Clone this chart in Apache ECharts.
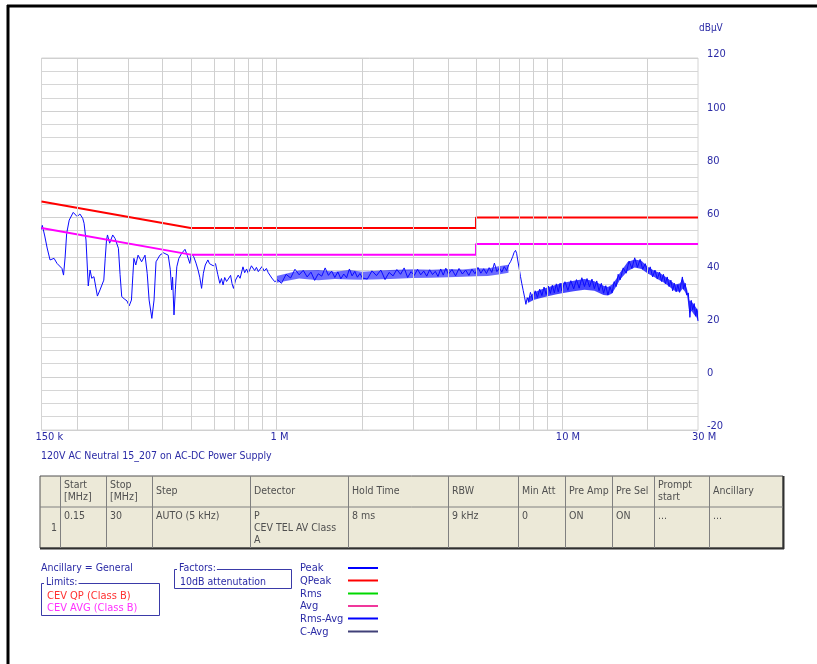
<!DOCTYPE html>
<html>
<head>
<meta charset="utf-8">
<script src="https://cdn.jsdelivr.net/npm/echarts@6/dist/echarts.min.js"></script>
<style>
  html, body { margin: 0; padding: 0; background: #fff; }
  #chart { width: 817px; height: 664px; }
</style>
</head>
<body>
<div id="chart"></div>
<script>
// axis ticks and grid positions (frequency in MHz)
const xTickFreqs = [0.15, 1, 10, 30];
const xTickLabels = ['150 k', '1 M', '10 M', '30 M'];
const xGridFreqs = [0.2, 0.3, 0.4, 0.5, 0.6, 0.7, 0.8, 0.9, 1, 2, 3, 4, 5, 6, 7, 8, 9, 10, 20];

// limit lines
const limitFreq = [0.15, 0.5, 5, 5, 30];
const qpLevel = [66, 56, 56, 60, 60];
const avgLevel = [56, 46, 46, 50, 50];

// measured peak trace, [MHz, dBuV]
const peakTrace = [
  [0.150,55.5],[0.151,57.0],[0.154,53.0],[0.157,48.5],[0.1607,44.0],[0.166,44.6],[0.170,42.7],[0.1769,40.8],
  [0.1792,38.3],[0.1815,45.0],[0.1838,54.0],[0.1876,59.0],[0.1938,61.9],[0.2001,60.3],[0.2045,61.3],[0.2091,59.7],
  [0.2115,57.8],[0.2148,51.5],[0.2188,34.2],[0.222,40.2],[0.225,37.1],[0.229,37.7],[0.2355,30.4],[0.2405,32.7],
  [0.248,36.4],[0.2508,44.5],[0.2535,51.5],[0.2555,53.4],[0.260,50.3],[0.2665,53.4],[0.2715,52.1],[0.279,48.4],
  [0.2828,38.5],[0.2866,30.2],[0.2937,29.2],[0.2990,28.6],[0.3043,26.7],[0.310,28.9],[0.3135,38.0],[0.3162,44.6],
  [0.321,42.1],[0.327,45.8],[0.3365,43.3],[0.3459,45.8],[0.352,39.0],[0.3575,28.9],[0.3655,22.0],[0.372,28.9],
  [0.378,43.3],[0.390,45.8],[0.401,46.7],[0.417,45.8],[0.424,40.5],[0.429,32.7],[0.432,37.5],[0.437,23.3],
  [0.442,33.0],[0.447,41.4],[0.4545,44.6],[0.465,46.5],[0.4775,48.0],[0.486,45.8],[0.4965,42.7],[0.503,46.5],
  [0.5125,45.2],[0.522,42.8],[0.5307,40.2],[0.538,37.5],[0.546,33.3],[0.554,39.0],[0.5625,42.1],[0.5745,44.0],
  [0.582,42.6],[0.5908,43.3],[0.600,41.8],[0.611,42.6],[0.622,38.6],[0.6325,35.2],[0.641,37.0],[0.6495,34.6],
  [0.658,37.4],[0.668,35.9],[0.677,36.8],[0.690,38.2],[0.698,35.1],[0.7065,33.3],[0.718,36.4],[0.7335,38.3],
  [0.745,37.1],[0.7625,41.4],[0.773,39.2],[0.785,40.6],[0.7955,39.0],[0.8075,39.6],[0.8165,41.8],[0.8265,42.1],
  [0.838,40.0],[0.850,41.2],[0.863,39.6],[0.876,40.2],[0.889,41.5],[0.905,39.8],[0.9215,40.8],[0.935,39.2],
  [0.9485,39.6],[0.962,37.2],[0.9855,35.8],[1.01,36.5],[1.04,35.2],[1.08,38.6],[1.12,37.2],[1.16,40.5],
  [1.20,38.4],[1.24,40.1],[1.28,37.6],[1.32,39.4],[1.36,36.3],[1.40,38.8],[1.44,37.9],[1.48,41.0],
  [1.52,38.2],[1.56,39.8],[1.60,37.4],[1.64,39.5],[1.68,36.9],[1.72,38.7],[1.76,37.3],[1.80,40.6],
  [1.84,38.0],[1.88,39.7],[1.92,37.5],[1.96,38.9],[2.00,37.2],[2.08,36.8],[2.16,39.9],[2.24,38.1],
  [2.32,40.2],[2.40,36.6],[2.48,39.3],[2.56,38.0],[2.64,40.4],[2.72,38.6],[2.80,41.0],[2.88,37.4],
  [2.96,39.6],[3.04,38.2],[3.12,40.5],[3.20,38.4],[3.28,39.8],[3.36,37.9],[3.44,40.3],[3.52,38.5],
  [3.60,39.7],[3.68,37.8],[3.76,40.6],[3.84,38.3],[3.92,40.9],[4.00,38.6],[4.12,40.4],[4.24,38.0],
  [4.36,40.8],[4.48,38.7],[4.60,40.2],[4.72,38.2],[4.84,40.5],[4.96,38.8],[5.08,41.2],[5.20,39.0],
  [5.32,40.7],[5.44,38.9],[5.56,41.1],[5.68,39.3],[5.80,42.8],[5.92,39.6],[6.04,41.0],[6.16,39.4],
  [6.28,41.5],[6.40,40.0],[6.52,42.3],[6.62,43.5],[6.72,45.2],[6.80,46.8],[6.88,47.6],[6.94,46.5],
  [7.00,44.0],[7.08,41.0],[7.16,37.8],[7.24,35.0],[7.32,32.5],[7.40,30.0],[7.48,27.3],[7.56,29.8],
  [7.64,28.4],[7.76,31.8],[7.91,29.0],[8.06,32.4],[8.21,29.9],[8.36,33.0],[8.51,30.6],[8.66,33.8],
  [8.81,31.0],[8.96,34.2],[9.11,31.4],[9.26,34.5],[9.41,31.6],[9.56,35.0],[9.71,32.0],[9.86,35.2],
  [10.0,32.3],[10.25,35.8],[10.5,32.6],[10.75,36.2],[11.0,33.1],[11.25,36.6],[11.5,33.4],[11.75,37.3],
  [12.0,34.0],[12.25,37.0],[12.5,33.8],[12.75,36.8],[13.0,33.2],[13.25,36.1],[13.5,32.4],[13.75,35.2],
  [14.0,31.5],[14.25,34.3],[14.5,30.8],[14.75,33.8],[15.0,31.6],[15.25,35.8],[15.5,34.0],[15.75,38.6],
  [16.0,36.5],[16.4,41.0],[16.8,39.0],[17.2,43.6],[17.6,40.8],[18.0,44.8],[18.4,41.2],[18.8,44.2],
  [19.2,40.5],[19.6,42.6],[20.0,38.8],[20.4,41.4],[20.8,37.6],[21.2,40.2],[21.6,36.8],[22.0,39.4],
  [22.35,35.9],[22.7,38.6],[23.05,35.0],[23.4,37.6],[23.75,34.0],[24.1,36.4],[24.45,32.4],[24.8,35.2],
  [25.15,32.0],[25.5,34.6],[25.85,31.8],[26.2,35.4],[26.45,37.6],[26.7,33.0],[27.05,35.2],[27.4,30.8],
  [27.75,31.6],[28.1,22.4],[28.4,28.8],[28.75,25.2],[29.1,27.6],[29.4,22.8],[29.7,25.6],[30.0,21.0]
];

// noise band envelopes of the peak trace (dense sweep)
const bandFreqA = [1.0, 1.2, 1.4, 1.6, 1.8, 2.0, 2.5, 3.0, 3.5, 4.0, 4.5, 5.0, 5.5, 6.0, 6.5];
const bandLowA  = [35.4, 37.0, 36.4, 36.8, 36.6, 36.5, 36.8, 37.2, 37.3, 37.5, 37.7, 37.9, 38.0, 38.5, 39.2];
const bandHighA = [38.0, 40.0, 40.2, 39.6, 40.2, 39.6, 40.2, 40.5, 40.3, 40.6, 40.4, 40.9, 40.8, 41.6, 42.2];
const bandFreqB = [7.6, 8, 8.5, 9, 9.5, 10, 11, 12, 13, 14, 14.5, 15, 15.5, 16, 17, 18, 19, 20, 21, 22, 23, 24, 25, 26, 26.5, 27, 27.5, 28, 28.5, 29, 29.5, 30];
const bandLowB  = [27.8, 29.0, 29.8, 30.4, 31.0, 31.5, 32.2, 32.8, 32.4, 30.8, 30.6, 31.4, 34.0, 36.6, 39.8, 41.2, 40.6, 38.9, 37.7, 36.4, 35.2, 33.6, 32.2, 32.0, 33.2, 32.0, 30.2, 24.0, 24.8, 23.6, 22.8, 21.2];
const bandHighB = [29.6, 31.8, 33.0, 33.8, 34.6, 35.3, 36.2, 36.8, 36.0, 34.3, 33.8, 34.8, 36.8, 39.3, 43.2, 44.2, 43.7, 41.4, 40.0, 39.2, 37.8, 36.3, 34.8, 35.2, 37.2, 35.0, 32.8, 28.6, 28.4, 27.2, 26.2, 24.8];

// settings table
const tableCols = [40, 60, 106, 152, 250, 348, 448, 518, 565, 612, 654, 709, 783];
const tableHead = ['', 'Start\n[MHz]', 'Stop\n[MHz]', 'Step', 'Detector', 'Hold Time', 'RBW', 'Min Att', 'Pre Amp', 'Pre Sel', 'Prompt\nstart', 'Ancillary'];
const tableRow = ['1', '0.15', '30', 'AUTO (5 kHz)', 'P\nCEV TEL AV Class\nA', '8 ms', '9 kHz', '0', 'ON', 'ON', '...', '...'];

// legend
const traceNames = ['Peak', 'QPeak', 'Rms', 'Avg', 'Rms-Avg', 'C-Avg'];
const traceColors = ['#0000ff', '#ff0000', '#00d800', '#f0389c', '#0000ff', '#404078'];

const FONT = '"DejaVu Sans Condensed", "Liberation Sans", sans-serif';
const BLUE_TEXT = '#2b2ba6';
const TRACE_BLUE = '#0a0aff';
const lg = Math.log10;

const chart = echarts.init(document.getElementById('chart'), null, { renderer: 'canvas' });

function txt(text, x, y, size, color, extra) {
  return {
    type: 'text', silent: true,
    style: Object.assign({ text: text, x: x, y: y, fill: color, font: size + 'px ' + FONT, verticalAlign: 'middle' }, extra || {})
  };
}

// custom series: filled polygon between low and high envelope
function bandSeries(freqs, low, high, opacity) {
  return {
    type: 'custom', z: 2, silent: true,
    data: freqs.map((f, i) => [lg(f), low[i], high[i]]),
    encode: { x: 0, y: [1, 2] },
    renderItem: function (params, api) {
      if (params.dataIndex !== 0) return null;
      const pts = [];
      for (let i = 0; i < freqs.length; i++) pts.push(api.coord([lg(freqs[i]), high[i]]));
      for (let i = freqs.length - 1; i >= 0; i--) pts.push(api.coord([lg(freqs[i]), low[i]]));
      return { type: 'polygon', shape: { points: pts }, style: { fill: TRACE_BLUE, opacity: opacity } };
    }
  };
}

const graphics = [];
// outer frame
graphics.push({ type: 'line', shape: { x1: 7, y1: 6, x2: 817, y2: 6 }, style: { stroke: '#000', lineWidth: 3 } });
graphics.push({ type: 'line', shape: { x1: 8, y1: 5, x2: 8, y2: 664 }, style: { stroke: '#000', lineWidth: 3 } });
graphics.push(txt('dBµV', 699, 28, 10, BLUE_TEXT));
graphics.push(txt('120V AC Neutral 15_207 on AC-DC Power Supply', 41, 456, 10.5, BLUE_TEXT));

// table
const tTop = 476, tMid = 507, tBot = 548;
const tLeft = tableCols[0], tRight = tableCols[tableCols.length - 1];
graphics.push({ type: 'rect', shape: { x: tLeft, y: tTop, width: tRight - tLeft, height: tBot - tTop }, style: { fill: '#ece9d8', stroke: '#505050', lineWidth: 1 } });
graphics.push({ type: 'line', shape: { x1: tLeft, y1: tBot + 0.5, x2: tRight + 1, y2: tBot + 0.5 }, style: { stroke: '#303030', lineWidth: 2 } });
graphics.push({ type: 'line', shape: { x1: tRight + 0.5, y1: tTop, x2: tRight + 0.5, y2: tBot + 1 }, style: { stroke: '#303030', lineWidth: 2 } });
graphics.push({ type: 'line', shape: { x1: tLeft, y1: tMid, x2: tRight, y2: tMid }, style: { stroke: '#808080', lineWidth: 1 } });
for (let i = 1; i < tableCols.length - 1; i++) {
  graphics.push({ type: 'line', shape: { x1: tableCols[i] + 0.5, y1: tTop, x2: tableCols[i] + 0.5, y2: tBot }, style: { stroke: '#808080', lineWidth: 1 } });
}
for (let i = 1; i < tableHead.length; i++) {
  graphics.push(txt(tableHead[i], tableCols[i] + 4, 491.5, 10.5, '#505050', { lineHeight: 12.5 }));
  graphics.push(txt(tableRow[i], tableCols[i] + 4, 510, 10.5, '#505050', { lineHeight: 12, verticalAlign: 'top' }));
}
graphics.push(txt(tableRow[0], 57, 528, 10.5, '#505050', { align: 'right' }));

// ancillary / limits / factors boxes
graphics.push(txt('Ancillary = General', 41, 568, 10.5, BLUE_TEXT));
graphics.push({ type: 'rect', shape: { x: 41.5, y: 583.5, width: 118, height: 32 }, style: { fill: 'none', stroke: '#3a3aa8', lineWidth: 1 } });
graphics.push(txt('Limits:', 44, 582, 10.5, BLUE_TEXT, { backgroundColor: '#fff', padding: [0, 1, 0, 2] }));
graphics.push(txt('CEV QP (Class B)', 47, 596.5, 11, '#ff3030'));
graphics.push(txt('CEV AVG (Class B)', 47, 608.5, 11, '#ff30ff'));
graphics.push({ type: 'rect', shape: { x: 174.5, y: 569.5, width: 117, height: 19 }, style: { fill: 'none', stroke: '#3a3aa8', lineWidth: 1 } });
graphics.push(txt('Factors:', 177, 568.5, 10.5, BLUE_TEXT, { backgroundColor: '#fff', padding: [0, 1, 0, 2] }));
graphics.push(txt('10dB attenutation', 180, 582, 10.5, BLUE_TEXT));

// trace legend
const legendY = [568, 580.5, 593.5, 606, 618.5, 631.5];
for (let i = 0; i < traceNames.length; i++) {
  graphics.push(txt(traceNames[i], 300, legendY[i] + 0.5, 11, BLUE_TEXT));
  graphics.push({ type: 'line', shape: { x1: 348, y1: legendY[i], x2: 378, y2: legendY[i] }, style: { stroke: traceColors[i], lineWidth: 2 } });
}

const option = {
  animation: false,
  backgroundColor: '#fff',
  grid: { left: 41.5, top: 58, width: 656.5, height: 372, show: true, borderColor: '#d4d4d4', borderWidth: 1 },
  xAxis: {
    type: 'value', min: lg(0.15), max: lg(30),
    axisLine: { show: false }, axisTick: { show: false }, splitLine: { show: false },
    axisLabel: {
      customValues: xTickFreqs.map(lg),
      formatter: function (v) {
        for (let i = 0; i < xTickFreqs.length; i++) {
          if (Math.abs(lg(xTickFreqs[i]) - v) < 1e-6) return xTickLabels[i];
        }
        return '';
      },
      color: BLUE_TEXT, fontSize: 11, fontFamily: FONT, margin: 2, align: 'left', padding: [0, 0, 0, -6]
    }
  },
  yAxis: {
    type: 'value', position: 'right', min: -20, max: 120, interval: 20,
    axisLine: { show: false }, axisTick: { show: false },
    splitLine: { lineStyle: { color: '#d0d0d0', width: 1 } },
    minorTick: { show: false, splitNumber: 4 },
    minorSplitLine: { show: true, lineStyle: { color: '#d6d6d6', width: 1 } },
    axisLabel: { color: BLUE_TEXT, fontSize: 11, fontFamily: FONT, margin: 9, align: 'left', verticalAlign: 'bottom', lineHeight: 7 }
  },
  series: [
    {
      name: 'grid', type: 'line', z: 1, data: [], silent: true,
      markLine: {
        silent: true, symbol: ['none', 'none'], label: { show: false },
        lineStyle: { color: '#d0d0d0', type: 'solid', width: 1 },
        data: xGridFreqs.map(f => ({ xAxis: lg(f) }))
      }
    },
    bandSeries(bandFreqA, bandLowA, bandHighA, 0.6),
    bandSeries(bandFreqB, bandLowB, bandHighB, 0.75),
    {
      name: 'Peak', type: 'line', showSymbol: false, z: 3,
      lineStyle: { color: TRACE_BLUE, width: 1 },
      data: peakTrace.map(p => [lg(p[0]), p[1]])
    },
    {
      name: 'AVG limit', type: 'line', showSymbol: false, z: 4,
      lineStyle: { color: '#ff00ff', width: 2 },
      data: limitFreq.map((f, i) => [lg(f), avgLevel[i]])
    },
    {
      name: 'QP limit', type: 'line', showSymbol: false, z: 4,
      lineStyle: { color: '#ff0000', width: 2 },
      data: limitFreq.map((f, i) => [lg(f), qpLevel[i]])
    }
  ],
  graphic: graphics
};

chart.setOption(option);
</script>
</body>
</html>
